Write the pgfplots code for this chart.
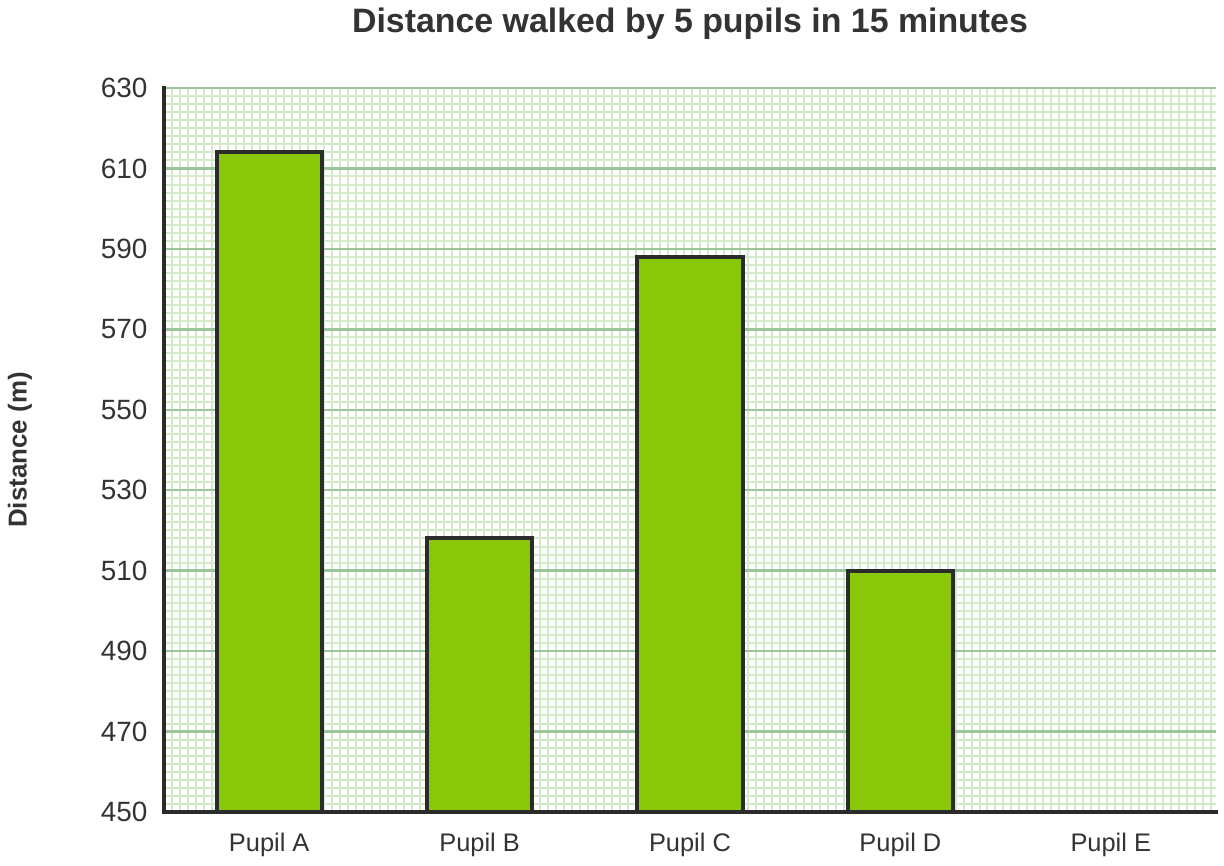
\documentclass[border=0pt]{standalone}
\usepackage{pgfplots}
\pgfplotsset{compat=1.18}
\usepackage{fontspec}
\setmainfont{Liberation Sans}
\definecolor{barfill}{RGB}{138,199,8}
\definecolor{dark}{RGB}{43,43,43}
\definecolor{txt}{RGB}{51,51,51}
\definecolor{majgrid}{RGB}{155,198,155}
\definecolor{mingrid}{RGB}{212,234,202}
\begin{document}
\begin{tikzpicture}[x=1bp,y=1bp]
\path[use as bounding box] (0,0) rectangle (1224,866);
\begin{axis}[
  at={(164bp,54bp)}, anchor=south west,
  scale only axis, width=1052bp, height=724bp,
  xmin=-0.5, xmax=4.5, ymin=450, ymax=630,
  axis x line*=bottom, axis y line*=left,
  axis line style={dark, line width=4bp, line cap=rect},
  xtick={0,1,2,3,4},
  xticklabels={Pupil A,Pupil B,Pupil C,Pupil D,Pupil E},
  ytick={450,470,...,630},
  minor ytick={452,454,...,628},
  minor xtick={-0.5,-0.462,...,4.5},
  major tick length=0, minor tick length=0,
  ymajorgrids, yminorgrids, xminorgrids,
  major grid style={majgrid, line width=2.5bp},
  minor grid style={mingrid, line width=2bp},
  tick label style={font=\fontsize{28}{32}\selectfont, text=txt},
  /pgf/number format/assume math mode=true,
  yticklabel style={xshift=-13bp},
  xticklabel style={yshift=-18bp},
  xticklabel style={font=\fontsize{25.5}{29}\selectfont, text=txt},
]
\addplot[ybar, bar width=0.5, fill=barfill, draw=dark, line width=4bp] coordinates {(0,614) (1,518) (2,588) (3,510)};
\end{axis}
\node[font=\bfseries\fontsize{34}{38}\selectfont, text=txt] at (690,842) {Distance walked by 5 pupils in 15 minutes};
\node[font=\bfseries\fontsize{26}{30}\selectfont, text=txt, rotate=90] at (20,416) {Distance (m)};
\end{tikzpicture}
\end{document}
